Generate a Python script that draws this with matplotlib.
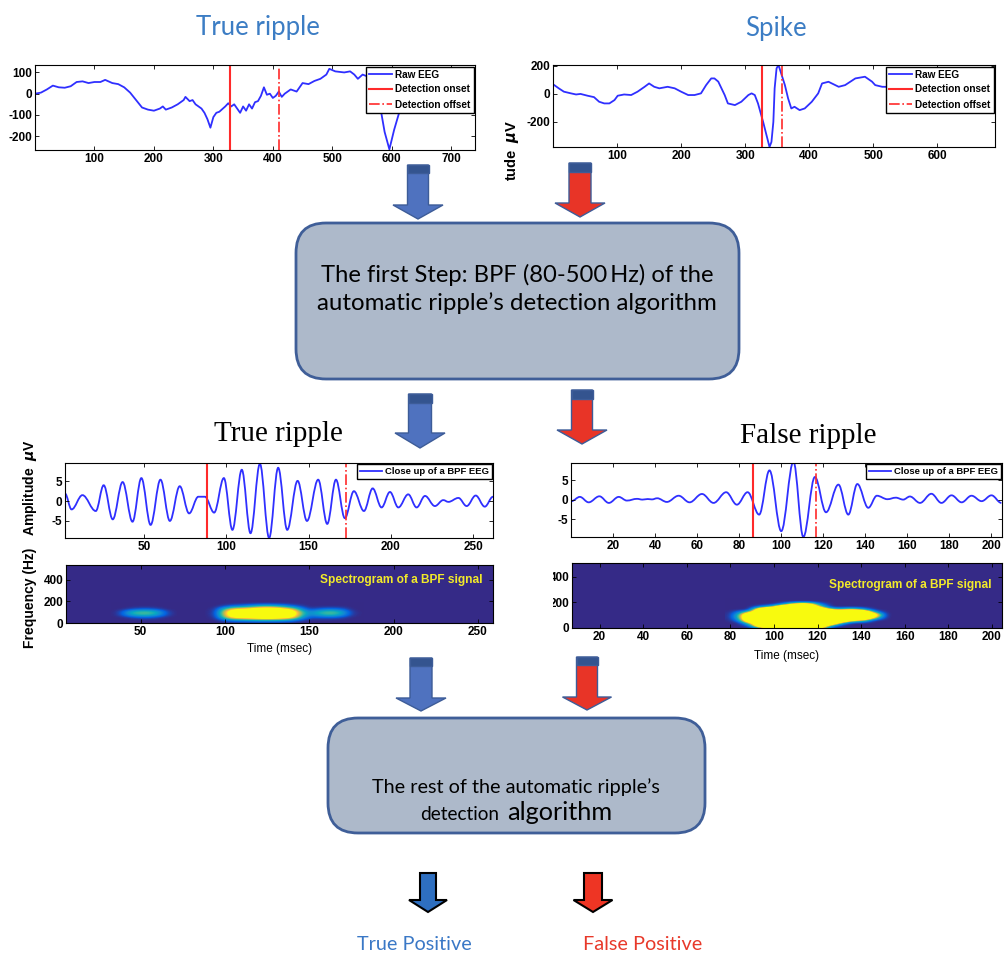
import numpy as np
import matplotlib.pyplot as plt
from matplotlib.patches import Polygon, Rectangle, FancyBboxPatch, PathPatch
from matplotlib.path import Path
from matplotlib.colors import LinearSegmentedColormap

W, H = 1008, 956

plt.rcParams['font.family'] = ['Liberation Sans', 'DejaVu Sans']
plt.rcParams['font.weight'] = 'bold'
plt.rcParams['axes.unicode_minus'] = False

# ---- data ----
# top left: raw EEG, true ripple
raw1_t = [0, 10, 20, 30, 40, 50, 60, 70, 80, 90, 100, 110, 118, 130, 140, 150, 160, 170, 180,
          190, 200, 210, 215, 220, 230, 240, 250, 253, 260, 265, 270, 280, 285, 290, 295, 300,
          305, 310, 320, 325, 330, 335, 340, 345, 350, 355, 360, 365, 370, 375, 380, 385, 390,
          395, 400, 405, 410, 415, 420, 430, 440, 450, 460, 470, 480, 490, 495, 505, 520, 530,
          537, 543, 551, 560, 575, 582, 588, 596, 604, 613, 625, 650, 700, 740]
raw1_v = [0, 5, 20, 38, 30, 28, 35, 55, 58, 50, 55, 55, 65, 50, 45, 30, 5, -30, -65,
          -75, -80, -70, -60, -75, -65, -50, -30, -15, -35, -30, -50, -70, -90, -120, -160, -110,
          -90, -85, -60, -45, -60, -50, -70, -90, -60, -80, -50, -70, -40, -35, -10, 30, -5,
          0, -20, -10, 10, -15, 0, 20, 10, 50, 45, 60, 70, 90, 117, 105, 100, 105,
          90, 70, 90, 80, 60, -84, -180, -262, -170, -84, 20, 60, 70, 80]
raw1_on, raw1_off = 328, 411

# top right: raw EEG, spike
raw2_t = [0, 2, 9, 17, 28, 36, 43, 54, 64, 72, 80, 88, 96, 101, 111, 122, 132, 143, 150, 158,
          166, 179, 190, 200, 211, 221, 231, 239, 247, 252, 258, 268, 273, 284, 294, 305, 310,
          315, 320, 328, 336, 338, 341, 344, 346, 349, 352, 357, 362, 367, 372, 377, 385, 393,
          404, 414, 420, 430, 446, 456, 472, 487, 498, 503, 514, 540, 560, 600, 640, 690]
raw2_v = [68, 63, 40, 16, 4, -4, 0, -13, -23, -56, -68, -68, -44, -13, -4, -8, 16, 51, 75, 51,
          40, 51, 40, 16, -8, -8, 4, 63, 111, 111, 88, -8, -68, -80, -56, -8, 4,
          -8, -68, -200, -344, -380, -344, -200, 40, 183, 207, 135, 63, -32, -104, -92, -116, -104,
          -56, 4, 75, 87, 51, 63, 111, 123, 88, 63, 51, 50, 40, 30, 20, 10]
raw2_on, raw2_off = 326, 357

# middle left: BPF close up, true ripple (peaks and troughs)
bpf1_t = [2, 6, 12.6, 20.7, 25.5, 31, 37, 43, 48.4, 54, 60, 65.7, 71.7, 77.4, 83, 87, 92.6,
          98.5, 103.7, 109.4, 114.7, 120.4, 126, 131.5, 137, 143.3, 149, 155.8, 161.3, 166.6,
          172, 177.5, 183.6, 188.9, 194.3, 199.4, 204.5, 210.5, 215.6, 220.7, 226.7, 231.8,
          234.9, 241, 246, 251.5, 257, 262]
bpf1_v = [1.9, -2.1, 1.5, -2.5, 4.0, -4.6, 4.8, -5.2, 5.8, -6, 5.4, -5, 3.75, -3.1, 1.1, 1.1, -2.9,
          5.8, -7.25, 7.9, -8.1, 9.4, -9.3, 8.4, -7.25, 5.1, -5, 5.4, -5.75, 5.4,
          -4.3, 2.5, -2.5, 3.2, -1.6, 2.3, -1.6, 1.7, -1.6, 1.3, -1.25, 0.25,
          -0.2, 0.8, -1.25, 1.4, -1.4, 1.1]
bpf1_on, bpf1_off = 88.5, 172.4

# middle right: BPF close up, false ripple (peaks and troughs)
bpf2_t = [0.2, 4.2, 8.4, 13.5, 18, 22.7, 26.6, 31.4, 34, 36.5, 38.5, 41, 45.6, 51.2, 56.4, 62.3,
          67.8, 73.8, 78.9, 84, 89.5, 94.4, 100, 105.8, 110.5, 116, 121.3, 127.2, 131.9, 136.2,
          141.4, 145.5, 150.5, 154.5, 158, 161.2, 166, 171.4, 176.2, 181, 185.8, 190.5, 195.3,
          200, 204.7]
bpf2_v = [-0.4, 0.7, -0.7, 0.85, -0.85, 0.7, -0.25, 0.2, 0.0, 0.15, 0.05, 0.35, -0.6, 1.0, -0.7, 1.45,
          -0.85, 1.9, -1.3, 1.9, -3.85, 7.5, -8.1, 9.75, -9.6, 5.8, -3.25, 3.85, -3.85, 4.0,
          -2.1, 1.0, 0.1, 0.5, 0.0, 0.8, -0.85, 1.5, -0.85, 1.1, -0.7, 1.0, -0.4,
          1.1, -0.85]
bpf2_on, bpf2_off = 86.8, 116.6

# spectrogram cells (rows = frequency, cols = time)
spec1_t = list(range(35, 185, 5))
spec1_f = [0, 25, 50, 75, 100, 125, 150, 175]
spec1 = [
    [0] * 30,
    [0, 0, 0, 0, 0, 0, 0, 0, 0, 0, 0, 0, 0, 0.1, 0.2, 0.25, 0.3, 0.35, 0.35, 0.35, 0.3, 0.2, 0.05, 0, 0, 0, 0, 0, 0, 0],
    [0, 0, 0.05, 0.1, 0.1, 0.05, 0, 0, 0, 0, 0, 0, 0.05, 0.6, 1.1, 1.2, 1.3, 1.4, 1.5, 1.4, 1.3, 1.0, 0.4, 0.1, 0.1, 0.1, 0.1, 0.05, 0, 0],
    [0, 0.15, 0.4, 0.5, 0.5, 0.35, 0.1, 0, 0, 0, 0, 0, 0.1, 0.8, 1.4, 1.5, 1.6, 1.8, 1.9, 1.8, 1.6, 1.3, 0.6, 0.25, 0.35, 0.5, 0.5, 0.3, 0.05, 0],
    [0, 0.15, 0.45, 0.55, 0.55, 0.4, 0.1, 0, 0, 0, 0, 0, 0.1, 0.8, 1.4, 1.5, 1.6, 1.8, 1.9, 1.8, 1.6, 1.3, 0.6, 0.25, 0.4, 0.55, 0.55, 0.35, 0.05, 0],
    [0, 0, 0.05, 0.1, 0.1, 0.05, 0, 0, 0, 0, 0, 0, 0.05, 0.5, 0.9, 1.0, 1.1, 1.3, 1.4, 1.3, 1.1, 0.8, 0.3, 0.05, 0.1, 0.15, 0.15, 0.1, 0, 0],
    [0, 0, 0, 0, 0, 0, 0, 0, 0, 0, 0, 0, 0, 0.05, 0.15, 0.2, 0.3, 0.45, 0.5, 0.45, 0.3, 0.15, 0.05, 0, 0, 0, 0, 0, 0, 0],
    [0] * 30,
]

spec2_t = list(range(80, 160, 5))
spec2_f = [0, 20, 40, 60, 80, 100, 120, 140, 160, 180, 200, 220]
spec2 = [
    [0, 0, 0, 0.3, 1.5, 0.3, 1.5, 0.3, 1.2, 0, 0, 0, 0, 0, 0, 0],
    [0, 0, 0.2, 3, 3, 3, 3, 3, 3, 0.5, 0, 0, 0, 0, 0, 0],
    [0, 0, 1, 3, 3, 3, 3, 3, 3, 3, 0.5, 0, 0, 0, 0, 0],
    [0, 0.3, 3, 3, 3, 3, 3, 3, 3, 3, 3, 1, 0.8, 0, 0, 0],
    [0, 0.6, 3, 3, 3, 3, 3, 3, 3, 3, 3, 3, 3, 1, 0, 0],
    [0, 0.6, 3, 3, 3, 3, 3, 3, 3, 3, 3, 3, 3, 2, 0, 0],
    [0, 0.3, 1, 3, 3, 3, 3, 3, 3, 3, 3, 3, 3, 0.5, 0, 0],
    [0, 0, 0, 3, 3, 3, 3, 3, 3, 1, 0.5, 1, 0.5, 0, 0, 0],
    [0, 0, 0, 0.3, 0.8, 3, 3, 3, 1, 0, 0, 0, 0, 0, 0, 0],
    [0, 0, 0, 0, 0, 0.3, 1.5, 1.8, 0.3, 0, 0, 0, 0, 0, 0, 0],
    [0] * 16,
    [0] * 16,
]

# ---- styling ----
EEG_BLUE = '#2f2fff'
DET_RED = '#ff2a2a'
TITLE_BLUE = '#3c7dc4'
parula = LinearSegmentedColormap.from_list('parula', [
    (0.0, (0.208, 0.166, 0.529)), (0.125, (0.012, 0.388, 0.882)),
    (0.25, (0.078, 0.522, 0.831)), (0.375, (0.024, 0.651, 0.769)),
    (0.5, (0.216, 0.722, 0.624)), (0.625, (0.525, 0.741, 0.435)),
    (0.75, (0.808, 0.725, 0.278)), (0.875, (0.996, 0.753, 0.227)),
    (1.0, (0.976, 0.984, 0.055))])

fig = plt.figure(figsize=(W / 100, H / 100), dpi=100)


def rect(l, t, r, b):
    return [l / W, 1 - b / H, (r - l) / W, (b - t) / H]


def matlab_axes(box, xlim, ylim, xticks, yticks):
    ax = fig.add_axes(rect(*box))
    ax.set_xlim(*xlim)
    ax.set_ylim(*ylim)
    ax.set_xticks(xticks)
    ax.set_yticks(yticks)
    ax.tick_params(direction='in', top=True, right=True, length=3, width=0.6,
                   labelsize=8.5, pad=2)
    for s in ax.spines.values():
        s.set_linewidth(0.8)
    return ax


def legend(ax, fs=7.2):
    ax.legend(loc='upper right', fontsize=fs, fancybox=False, framealpha=1,
              edgecolor='black', borderaxespad=0.15, borderpad=0.3,
              handlelength=2.3, handletextpad=0.3, labelspacing=0.5)


def wave(ax, t, v, label):
    # smooth half-waves between the read peaks and troughs
    verts, codes = [(t[0], v[0])], [Path.MOVETO]
    for i in range(1, len(t)):
        d = (t[i] - t[i - 1]) * 0.364
        verts += [(t[i - 1] + d, v[i - 1]), (t[i] - d, v[i]), (t[i], v[i])]
        codes += [Path.CURVE4] * 3
    ax.add_patch(PathPatch(Path(verts, codes), facecolor='none', edgecolor=EEG_BLUE, lw=1.3))
    ax.plot([], [], color=EEG_BLUE, lw=1.3, label=label)


# overlay for diagram shapes and text, in pixel coordinates
ov = fig.add_axes([0, 0, 1, 1])
ov.set_xlim(0, W)
ov.set_ylim(H, 0)
ov.axis('off')
ov.set_zorder(-1)

# top left
ax = matlab_axes((35, 65, 475, 150), (0, 740), (-265, 135), range(100, 800, 100), [-200, -100, 0, 100])
ax.plot(raw1_t, raw1_v, color=EEG_BLUE, lw=1.3, label='Raw EEG')
ax.axvline(raw1_on, color=DET_RED, lw=1.5, label='Detection onset')
ax.axvline(raw1_off, color=DET_RED, lw=1.2, ls='-.', label='Detection offset')
legend(ax)

# top right
ax = matlab_axes((553, 65, 995, 147), (0, 690), (-380, 207), range(100, 700, 100), [-200, 0, 200])
ax.plot(raw2_t, raw2_v, color=EEG_BLUE, lw=1.3, label='Raw EEG')
ax.axvline(raw2_on, color=DET_RED, lw=1.5, label='Detection onset')
ax.axvline(raw2_off, color=DET_RED, lw=1.2, ls='-.', label='Detection offset')
legend(ax)
fig.text(512 / W, 1 - 150 / H, 'tude  $\\mu$V', rotation=90, ha='center', va='center', fontsize=10.5)

# middle left
ax = matlab_axes((65, 463, 493, 538), (2, 262), (-9.3, 9.6), [50, 100, 150, 200, 250], [-5, 0, 5])
wave(ax, bpf1_t, bpf1_v, 'Close up of a BPF EEG')
ax.axvline(bpf1_on, color=DET_RED, lw=1.5)
ax.axvline(bpf1_off, color=DET_RED, lw=1.2, ls='-.')
legend(ax, 6.8)
fig.text(30 / W, 1 - 488 / H, 'Amplitude  $\\mu$V', rotation=90, ha='center', va='center', fontsize=10)

ax = matlab_axes((66, 565, 493, 623), (5.7, 259), (0, 538), [50, 100, 150, 200, 250], [0, 200, 400])
ax.set_facecolor(parula(0.0))
ax.imshow(spec1, origin='lower', cmap=parula, vmin=0, vmax=1, aspect='auto',
          interpolation='bicubic', interpolation_stage='data',
          extent=[spec1_t[0] - 2.5, spec1_t[-1] + 2.5, spec1_f[0] - 12.5, spec1_f[-1] + 12.5])
ax.set_xlim(5.7, 259)
ax.set_ylim(0, 538)
ax.text(0.975, 0.74, 'Spectrogram of a BPF signal', transform=ax.transAxes, ha='right',
        va='center', color='#f2ea2a', fontsize=8.6)
ax.set_xlabel('Time (msec)', fontsize=8.5, labelpad=4)
fig.text(30 / W, 1 - 598 / H, 'Frequency (Hz)', rotation=90, ha='center', va='center', fontsize=10)

# middle right
ax = matlab_axes((571, 463, 1002, 537), (0, 205), (-9.6, 9.4), range(20, 220, 20), [-5, 0, 5])
wave(ax, bpf2_t, bpf2_v, 'Close up of a BPF EEG')
ax.axvline(bpf2_on, color=DET_RED, lw=1.5)
ax.axvline(bpf2_off, color=DET_RED, lw=1.2, ls='-.')
legend(ax, 6.8)

ax = matlab_axes((572, 563, 1002, 628), (7.3, 204.6), (0, 506), range(20, 220, 20), [0, 200, 400])
ax.set_facecolor(parula(0.0))
ax.imshow(spec2, origin='lower', cmap=parula, vmin=0, vmax=1, aspect='auto',
          interpolation='bicubic', interpolation_stage='data',
          extent=[spec2_t[0] - 2.5, spec2_t[-1] + 2.5, spec2_f[0] - 10, spec2_f[-1] + 10])
ax.set_xlim(7.3, 204.6)
ax.set_ylim(0, 506)
ax.text(0.975, 0.66, 'Spectrogram of a BPF signal', transform=ax.transAxes, ha='right',
        va='center', color='#f2ea2a', fontsize=8.6)
ax.set_xlabel('Time (msec)', fontsize=8.5, labelpad=5)
# the picture crops these tick labels on the left
fig.add_artist(Rectangle((505 / W, 1 - 640 / H), 48 / W, 85 / H, transform=fig.transFigure,
                         facecolor='white', edgecolor='none', zorder=10))

# ---- diagram ----
SANS = ['Lato', 'DejaVu Sans']


def block_arrow(cx, top, cap, hs, tip, sw, hw, fill, capc='#34548f', edge='#3d5c98', lw=1.0):
    pts = [(cx - sw / 2, top), (cx + sw / 2, top), (cx + sw / 2, hs), (cx + hw / 2, hs),
           (cx, tip), (cx - hw / 2, hs), (cx - sw / 2, hs)]
    ov.add_patch(Polygon(pts, closed=True, facecolor=fill, edgecolor=edge, lw=lw))
    if cap:
        ov.add_patch(Rectangle((cx - sw / 2, top), sw, cap - top, facecolor=capc,
                               edgecolor=edge, lw=lw))


AR_BLUE, AR_RED = '#4f72bf', '#e83427'
block_arrow(418, 165, 173, 205, 219, 21, 50, AR_BLUE)
block_arrow(580, 163, 172, 203, 217, 22, 50, AR_RED)
block_arrow(420, 394, 403, 433, 448, 23, 50, AR_BLUE)
block_arrow(582, 390, 399, 430, 444, 21, 50, AR_RED)
block_arrow(421, 658, 666, 698, 711, 22, 50, AR_BLUE)
block_arrow(587, 657, 665, 697, 710, 21, 49, AR_RED)
block_arrow(428, 873, None, 900, 912, 16, 38, '#2e6fc0', edge='black', lw=1.5)
block_arrow(593, 873, None, 900, 912, 18, 39, '#ee3524', edge='black', lw=1.5)

for (l, t, r, b) in [(296, 223, 739, 379), (328, 718, 705, 833)]:
    ov.add_patch(FancyBboxPatch((l, t), r - l, b - t, boxstyle='round,pad=0,rounding_size=30',
                                facecolor='#adb9ca', edgecolor='#3f5e98', lw=2))

ov.text(517, 275, 'The first Step: BPF (80-500\u2009Hz) of the', ha='center', va='center',
        fontsize=17.1, family=SANS, weight='normal')
ov.text(517, 303, 'automatic ripple\u2019s detection algorithm', ha='center', va='center',
        fontsize=17.3, family=SANS, weight='normal')
ov.text(516, 787, 'The rest of the automatic ripple\u2019s', ha='center', va='center',
        fontsize=14.3, family=SANS, weight='normal')
ov.text(499, 820, 'detection', ha='right', va='baseline', fontsize=13.7, family=SANS, weight='normal')
ov.text(507, 820, 'algorithm', ha='left', va='baseline', fontsize=18.2, family=SANS, weight='normal')

ov.text(258, 27, 'True ripple', ha='center', va='center', color=TITLE_BLUE, fontsize=18.5,
        family=SANS, weight='normal')
ov.text(776, 28, 'Spike', ha='center', va='center', color=TITLE_BLUE, fontsize=18.5,
        family=SANS, weight='normal')
ov.text(278, 434, 'True ripple', ha='center', va='center', fontsize=21,
        family=['Liberation Serif', 'DejaVu Serif'], weight='normal')
ov.text(808, 436, 'False ripple', ha='center', va='center', fontsize=21,
        family=['Liberation Serif', 'DejaVu Serif'], weight='normal')
ov.text(414, 945, 'True Positive', ha='center', va='center', color='#3a78c6', fontsize=14.3,
        family=SANS, weight='normal')
ov.text(643, 945, 'False Positive', ha='center', va='center', color='#e8392a', fontsize=14.3,
        family=SANS, weight='normal')

fig.savefig('out.png', dpi=100)
